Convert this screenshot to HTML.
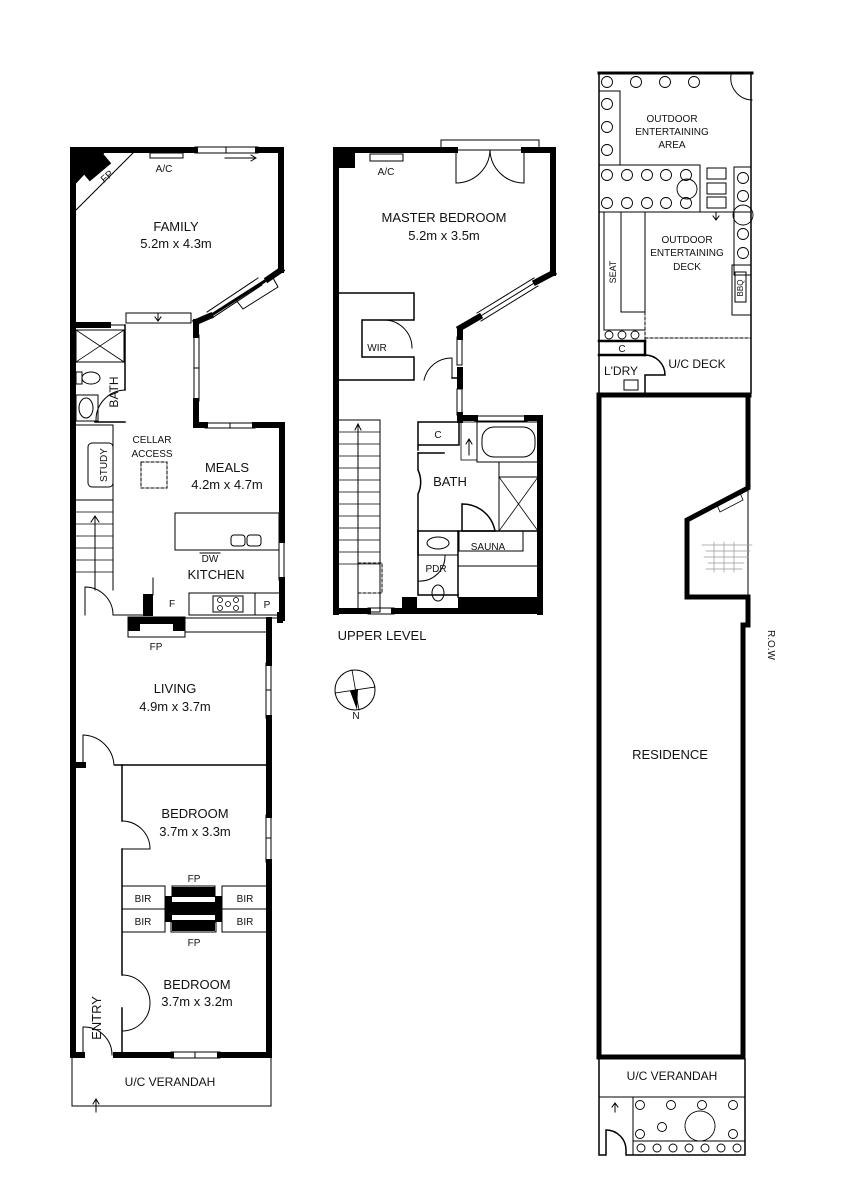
<!DOCTYPE html>
<html><head><meta charset="utf-8"><style>
html,body{margin:0;padding:0;background:#fff;}
svg{display:block;}
text{font-family:"Liberation Sans",Arial,sans-serif;fill:#111;}
</style></head><body>
<svg width="848" height="1200" viewBox="0 0 848 1200" xmlns="http://www.w3.org/2000/svg">
<g fill="none" stroke="#000" stroke-linecap="square">

<!-- ===== GROUND FLOOR ===== -->
<line x1="73" y1="150" x2="73" y2="1055" stroke-width="6"/>
<line x1="73" y1="150" x2="195" y2="150" stroke-width="6"/>
<line x1="258" y1="150" x2="281" y2="150" stroke-width="6"/>
<rect x="195" y="147" width="63" height="6" stroke-width="1"/>
<line x1="226" y1="147" x2="226" y2="153" stroke-width="1"/>
<line x1="225" y1="158" x2="255" y2="158" stroke-width="1"/>
<path d="M251 155 L256 158 L251 161" stroke-width="1"/>
<rect x="150" y="153" width="33" height="5" stroke-width="1"/>
<polygon points="70,147 110,147 70,190" fill="#000" stroke="none"/>
<line x1="75" y1="211" x2="135" y2="151" stroke-width="1"/>
<rect x="82" y="160" width="28" height="14" fill="#000" stroke="none" transform="rotate(-40 96 167)"/>
<line x1="281" y1="150" x2="281" y2="270" stroke-width="6"/>
<line x1="281" y1="270" x2="268" y2="279" stroke-width="6"/>
<line x1="210" y1="316" x2="196" y2="322" stroke-width="6"/>
<line x1="210" y1="316" x2="268" y2="279" stroke-width="3"/>
<path d="M207 312 L258 278 M212 318 L262 285" stroke-width="1"/>
<path d="M236 300 L272 276 L278 287 L243 309 Z" stroke-width="1"/>
<line x1="196" y1="322" x2="196" y2="335" stroke-width="6"/>
<rect x="194" y="335" width="5" height="66" stroke-width="1"/>
<line x1="194" y1="368" x2="199" y2="368" stroke-width="1"/>
<line x1="196" y1="401" x2="196" y2="425" stroke-width="6"/>
<line x1="196" y1="425" x2="205" y2="425" stroke-width="6"/>
<rect x="205" y="423" width="50" height="5" stroke-width="1"/>
<line x1="230" y1="423" x2="230" y2="428" stroke-width="1"/>
<line x1="255" y1="425" x2="282" y2="425" stroke-width="6"/>
<line x1="282" y1="425" x2="282" y2="540" stroke-width="6"/>
<rect x="279" y="540" width="5" height="40" stroke-width="1"/>
<line x1="282" y1="580" x2="282" y2="618" stroke-width="6"/>
<rect x="126" y="313" width="65" height="10" stroke-width="1"/>
<path d="M158 313 L158 320 M155 317 L158 321 L161 317" stroke-width="1"/>
<line x1="73" y1="325" x2="108" y2="325" stroke-width="6"/>
<line x1="108" y1="325" x2="125" y2="325" stroke-width="1"/>
<line x1="125" y1="325" x2="125" y2="390" stroke-width="1.5"/>
<rect x="76" y="330" width="48" height="32" stroke-width="1"/>
<path d="M76 330 L124 362 M124 330 L76 362" stroke-width="0.8"/>
<ellipse cx="91" cy="378" rx="9" ry="6" stroke-width="1"/>
<rect x="76" y="372" width="6" height="12" stroke-width="1"/>
<ellipse cx="86" cy="408" rx="7" ry="10" stroke-width="1"/>
<rect x="76" y="395" width="22" height="26" stroke-width="1"/>
<path d="M125 390 A30 30 0 0 0 96 420" stroke-width="1"/>
<line x1="95" y1="422" x2="125" y2="422" stroke-width="1.5"/>
<line x1="73" y1="425" x2="113" y2="425" stroke-width="1"/>
<line x1="113" y1="425" x2="113" y2="590" stroke-width="1"/>
<rect x="88" y="443" width="25" height="44" rx="4" stroke-width="1"/>
<line x1="73" y1="500" x2="113" y2="500" stroke-width="1"/>
<path d="M73 512 H113 M73 524 H113 M73 536 H113 M73 548 H113 M73 560 H113 M73 572 H113" stroke-width="0.8"/>
<path d="M95 590 V517 M91 522 L95 516 L99 522" stroke-width="1"/>
<rect x="141" y="462" width="26" height="26" stroke-width="1" stroke-dasharray="3,2"/>
<rect x="175" y="513" width="104" height="37" stroke-width="1"/>
<rect x="231" y="535" width="14" height="11" rx="3" stroke-width="1"/>
<rect x="247" y="535" width="14" height="11" rx="3" stroke-width="1"/>
<line x1="200" y1="553" x2="220" y2="553" stroke-width="1"/>
<line x1="153" y1="578" x2="153" y2="595" stroke-width="1"/>
<rect x="143" y="594" width="10" height="22" fill="#000" stroke="none"/>
<path d="M85 615 V587 A28 28 0 0 1 113 615" stroke-width="1"/>
<line x1="113" y1="615" x2="143" y2="615" stroke-width="1"/>
<rect x="189" y="593" width="66" height="22" stroke-width="1"/>
<rect x="213" y="596" width="30" height="16" stroke-width="1"/>
<circle cx="220" cy="600" r="2.5" stroke-width="0.8"/><circle cx="228" cy="604" r="2.5" stroke-width="0.8"/><circle cx="236" cy="600" r="2.5" stroke-width="0.8"/><circle cx="220" cy="608" r="2.5" stroke-width="0.8"/><circle cx="236" cy="608" r="2.5" stroke-width="0.8"/>
<rect x="255" y="593" width="26" height="22" stroke-width="1"/>
<line x1="280" y1="615" x2="280" y2="620" stroke-width="6"/>
<rect x="128" y="617" width="57" height="20" stroke-width="1"/>
<rect x="128" y="617" width="12" height="14" fill="#000" stroke="none"/>
<rect x="173" y="617" width="12" height="14" fill="#000" stroke="none"/>
<rect x="140" y="617" width="33" height="7" fill="#000" stroke="none"/>
<line x1="185" y1="632" x2="268" y2="632" stroke-width="1"/>
<line x1="153" y1="618" x2="282" y2="618" stroke-width="1"/>
<line x1="269" y1="620" x2="269" y2="663" stroke-width="6"/>
<rect x="266" y="663" width="5" height="55" stroke-width="1"/>
<line x1="266" y1="690" x2="271" y2="690" stroke-width="1"/>
<line x1="269" y1="718" x2="269" y2="815" stroke-width="6"/>
<rect x="266" y="815" width="5" height="47" stroke-width="1"/>
<line x1="266" y1="838" x2="271" y2="838" stroke-width="1"/>
<line x1="269" y1="862" x2="269" y2="1055" stroke-width="6"/>
<line x1="73" y1="765" x2="83" y2="765" stroke-width="6"/>
<line x1="115" y1="765" x2="268" y2="765" stroke-width="1.5"/>
<path d="M83 765 V735 A32 32 0 0 1 114 765" stroke-width="1"/>
<line x1="122" y1="765" x2="122" y2="821" stroke-width="1.5"/>
<path d="M122 821 A28 28 0 0 1 150 849 L122 849" stroke-width="1"/>
<line x1="122" y1="849" x2="122" y2="975" stroke-width="1.5"/>
<path d="M122 975 A28 28 0 0 1 150 1003 A28 28 0 0 1 122 1031" stroke-width="1"/>
<line x1="122" y1="1008" x2="122" y2="1055" stroke-width="1.5"/>
<rect x="122" y="886" width="43" height="23" stroke-width="1"/>
<rect x="122" y="909" width="43" height="23" stroke-width="1"/>
<rect x="222" y="886" width="46" height="23" stroke-width="1"/>
<rect x="222" y="909" width="46" height="23" stroke-width="1"/>
<rect x="165" y="896" width="57" height="26" fill="#000" stroke="none"/>
<rect x="172" y="887" width="43" height="9" fill="#000" stroke="none"/>
<rect x="172" y="922" width="43" height="9" fill="#000" stroke="none"/>
<rect x="172" y="897" width="43" height="5" fill="#fff" stroke="none"/>
<rect x="172" y="915" width="43" height="5" fill="#fff" stroke="none"/>
<rect x="172" y="886" width="43" height="10" stroke-width="1"/>
<rect x="171" y="922" width="45" height="10" stroke-width="1"/>
<line x1="73" y1="1055" x2="82" y2="1055" stroke-width="6"/>
<path d="M83 1055 V1027 A28 28 0 0 1 112 1055" stroke-width="1"/>
<line x1="116" y1="1055" x2="171" y2="1055" stroke-width="6"/>
<rect x="171" y="1052" width="49" height="6" stroke-width="1"/>
<line x1="195" y1="1052" x2="195" y2="1058" stroke-width="1"/>
<line x1="220" y1="1055" x2="269" y2="1055" stroke-width="6"/>
<polyline points="72,1058 72,1106 271,1106 271,1058" stroke-width="1"/>
<path d="M96 1112 V1100 M93 1104 L96 1099 L99 1104" stroke-width="1"/>

<!-- ===== UPPER LEVEL ===== -->
<line x1="336" y1="150" x2="336" y2="612" stroke-width="6"/>
<line x1="336" y1="150" x2="455" y2="150" stroke-width="6"/>
<line x1="524" y1="150" x2="553" y2="150" stroke-width="6"/>
<rect x="336" y="150" width="19" height="18" fill="#000" stroke="none"/>
<rect x="370" y="154" width="33" height="7" stroke-width="1"/>
<rect x="441" y="140" width="98" height="10" stroke-width="1"/>
<path d="M456 150 V183 A34 34 0 0 0 490 150 A34 34 0 0 0 524 183 V150" stroke-width="1"/>
<line x1="553" y1="150" x2="553" y2="273" stroke-width="6"/>
<line x1="553" y1="273" x2="536" y2="282" stroke-width="6"/>
<path d="M536 282 L479 317 M534 278 L477 313 M538 286 L481 321" stroke-width="1"/>
<line x1="479" y1="317" x2="460" y2="328" stroke-width="6"/>
<line x1="460" y1="330" x2="460" y2="337" stroke-width="6"/>
<rect x="457" y="337" width="5" height="28" stroke-width="1"/>
<rect x="457" y="367" width="6" height="22" fill="#000" stroke="none"/>
<rect x="457" y="389" width="5" height="26" stroke-width="1"/>
<line x1="460" y1="415" x2="460" y2="420" stroke-width="6"/>
<line x1="452" y1="378" x2="460" y2="378" stroke-width="1.5"/>
<line x1="452" y1="378" x2="452" y2="358" stroke-width="1"/>
<path d="M452 358 A28 28 0 0 0 424 380" stroke-width="1"/>
<path d="M336 293 H414 V320 H362 V357 H414 V380 H336" stroke-width="1.5"/>
<path d="M384 320 A28 28 0 0 1 412 348" stroke-width="1"/>
<rect x="337" y="420" width="43" height="192" stroke-width="1"/>
<path d="M337 432 H380 M337 444 H380 M337 456 H380 M337 468 H380 M337 480 H380 M337 492 H380 M337 504 H380 M337 516 H380 M337 528 H380 M337 540 H380 M337 552 H380 M337 564 H380" stroke-width="0.8"/>
<path d="M358 612 V424 M355 430 L358 424 L361 430" stroke-width="1"/>
<rect x="358" y="563" width="24" height="30" stroke-width="1" stroke-dasharray="3,2"/>
<line x1="336" y1="611" x2="368" y2="611" stroke-width="6"/>
<rect x="368" y="608" width="26" height="6" stroke-width="1"/>
<line x1="394" y1="611" x2="540" y2="611" stroke-width="6"/>
<rect x="402" y="597" width="15" height="14" fill="#000" stroke="none"/>
<rect x="458" y="597" width="82" height="14" fill="#000" stroke="none"/>
<line x1="460" y1="418" x2="475" y2="418" stroke-width="6"/>
<rect x="475" y="416" width="52" height="5" stroke-width="1"/>
<line x1="527" y1="418" x2="540" y2="418" stroke-width="6"/>
<line x1="540" y1="418" x2="540" y2="612" stroke-width="6"/>
<path d="M418 422 H457 M418 422 V450 M418 445 H459 V422" stroke-width="1.5"/>
<path d="M418 453 V470 A28 28 0 0 1 418 494 V595 H458" stroke-width="1.5"/>
<path d="M418 453 H444" stroke-width="1.5"/>
<rect x="461" y="422" width="16" height="38" stroke-width="0.8"/>
<path d="M469 455 V440 M466 444 L469 439 L472 444" stroke-width="1"/>
<rect x="477" y="422" width="61" height="40" stroke-width="1"/>
<rect x="482" y="427" width="53" height="30" rx="12" stroke-width="1"/>
<line x1="499" y1="462" x2="499" y2="531" stroke-width="1"/>
<rect x="499" y="477" width="39" height="54" stroke-width="1"/>
<path d="M499 477 L538 531 M538 477 L499 531" stroke-width="0.8"/>
<path d="M462 531 V504 A33 33 0 0 1 495 531 Z" stroke-width="1.5"/>
<line x1="418" y1="531" x2="538" y2="531" stroke-width="1.5"/>
<line x1="418" y1="531" x2="418" y2="555" stroke-width="1.5"/>
<rect x="459" y="531" width="64" height="20" stroke-width="1"/>
<line x1="459" y1="566" x2="538" y2="566" stroke-width="1"/>
<line x1="458" y1="531" x2="458" y2="597" stroke-width="1.5"/>
<ellipse cx="438" cy="543" rx="11" ry="6" stroke-width="1"/>
<line x1="418" y1="555" x2="458" y2="555" stroke-width="1"/>
<path d="M418 572 L418 595 M418 581 A25 25 0 0 0 445 556" stroke-width="1"/>
<ellipse cx="438" cy="593" rx="6" ry="8" stroke-width="1"/>
<circle cx="355" cy="690" r="20" stroke-width="1"/>
<path d="M352 670 L359 710 M335 693 L375 687" stroke-width="0.8"/>
<polygon points="350,691 358,689 357,710" fill="#000" stroke="none"/>

<!-- ===== RIGHT SITE ===== -->
<line x1="599" y1="73" x2="727" y2="73" stroke-width="3"/>
<line x1="727" y1="73" x2="752" y2="73" stroke-width="3"/>
<path d="M731 75 A22 22 0 0 0 752 100" stroke-width="1"/>
<line x1="599" y1="73" x2="599" y2="393" stroke-width="1.5"/>
<line x1="751" y1="73" x2="751" y2="393" stroke-width="1.5"/>
<path d="M599 91 H620 V165 M599 165 H700" stroke-width="1"/>
<rect x="599" y="165" width="101" height="47" stroke-width="1"/>
<rect x="707" y="168" width="19" height="11" stroke-width="1"/>
<rect x="707" y="183" width="19" height="11" stroke-width="1"/>
<rect x="707" y="197" width="19" height="11" stroke-width="1"/>
<line x1="599" y1="212" x2="751" y2="212" stroke-width="1"/>
<path d="M716 213 V219 M713 216 L716 220 L719 216" stroke-width="1"/>
<rect x="734" y="167" width="17" height="108" stroke-width="1"/>
<rect x="732" y="265" width="19" height="50" stroke-width="1"/>
<rect x="735" y="272" width="11" height="30" stroke-width="1"/>
<path d="M604 212 V330 H645 M621 212 V312 H645 V212" stroke-width="1"/>
<path d="M645 212 V340 M645 338 H751" stroke-width="1" stroke-dasharray="3,2"/>
<g stroke-width="0.9">
<circle cx="607" cy="82" r="5.5"/><circle cx="636" cy="82" r="5.5"/><circle cx="665" cy="82" r="5.5"/><circle cx="694" cy="82" r="5.5"/>
<circle cx="607" cy="104" r="5.5"/><circle cx="607" cy="127" r="5.5"/><circle cx="607" cy="150" r="5.5"/>
<circle cx="607" cy="175" r="5.5"/><circle cx="627" cy="175" r="5.5"/><circle cx="647" cy="175" r="5.5"/><circle cx="666" cy="175" r="5.5"/><circle cx="686" cy="175" r="5.5"/>
<circle cx="607" cy="203" r="5.5"/><circle cx="627" cy="203" r="5.5"/><circle cx="647" cy="203" r="5.5"/><circle cx="666" cy="203" r="5.5"/><circle cx="686" cy="203" r="5.5"/>
<circle cx="687" cy="189" r="10"/>
<circle cx="743" cy="178" r="5.5"/><circle cx="743" cy="196" r="5.5"/><circle cx="743" cy="234" r="5.5"/><circle cx="743" cy="253" r="5.5"/>
<circle cx="743" cy="215" r="10"/>
<circle cx="609" cy="335" r="4"/><circle cx="622" cy="335" r="4"/><circle cx="635" cy="335" r="4"/>
</g>
<line x1="599" y1="341" x2="645" y2="341" stroke-width="2.5"/>
<line x1="599" y1="355" x2="645" y2="355" stroke-width="2.5"/>
<line x1="645" y1="341" x2="645" y2="355" stroke-width="2.5"/>
<path d="M645 355 A20 20 0 0 1 665 375 H645 V393" stroke-width="1.5"/>
<rect x="624" y="380" width="14" height="10" stroke-width="1"/>
<line x1="599" y1="395" x2="749" y2="395" stroke-width="5"/>
<line x1="599" y1="395" x2="599" y2="1057" stroke-width="5"/>
<line x1="599" y1="1057" x2="743" y2="1057" stroke-width="5"/>
<path d="M748 395 V488 L687 520 V597 H748 V625 H743 V1057" stroke-width="5" stroke-linejoin="miter"/>
<line x1="748" y1="488" x2="748" y2="597" stroke-width="1"/>
<path d="M717 505 L740 493 L743 500 L720 512 Z" stroke-width="0.8"/>
<g stroke="#999" stroke-width="0.7">
<path d="M702 545 H752 M706 551 H750 M704 557 H748 M708 563 H744 M706 569 H742"/>
<path d="M714 542 V572 M724 542 V572 M734 542 V572"/>
</g>
<path d="M599 1059 V1155 H606 V1130 A20 20 0 0 1 626 1150 V1155 H745 V1059" stroke-width="1.5"/>
<line x1="599" y1="1097" x2="745" y2="1097" stroke-width="1"/>
<path d="M615 1112 V1104 M612 1107 L615 1103 L618 1107" stroke-width="1"/>
<line x1="633" y1="1097" x2="633" y2="1155" stroke-width="1"/>
<line x1="633" y1="1141" x2="745" y2="1141" stroke-width="1"/>
<g stroke-width="0.9">
<circle cx="640" cy="1105" r="4.5"/><circle cx="671" cy="1105" r="4.5"/><circle cx="702" cy="1105" r="4.5"/><circle cx="733" cy="1105" r="4.5"/>
<circle cx="662" cy="1127" r="4.5"/><circle cx="640" cy="1134" r="4.5"/><circle cx="733" cy="1134" r="4.5"/>
<circle cx="700" cy="1126" r="15" stroke-dasharray="2,1"/>
<circle cx="641" cy="1148" r="4"/><circle cx="657" cy="1148" r="4"/><circle cx="673" cy="1148" r="4"/><circle cx="689" cy="1148" r="4"/><circle cx="705" cy="1148" r="4"/><circle cx="721" cy="1148" r="4"/><circle cx="737" cy="1148" r="4"/>
</g>
</g>

<!-- ===== TEXT ===== -->
<g font-size="13" text-anchor="middle">
<text x="176" y="231">FAMILY</text>
<text x="176" y="248">5.2m x 4.3m</text>
<text x="227" y="472">MEALS</text>
<text x="227" y="489">4.2m x 4.7m</text>
<text x="216" y="579">KITCHEN</text>
<text x="175" y="693">LIVING</text>
<text x="175" y="711">4.9m x 3.7m</text>
<text x="195" y="818">BEDROOM</text>
<text x="195" y="836">3.7m x 3.3m</text>
<text x="197" y="989">BEDROOM</text>
<text x="197" y="1006">3.7m x 3.2m</text>
<text x="444" y="222">MASTER BEDROOM</text>
<text x="444" y="240">5.2m x 3.5m</text>
<text x="450" y="486">BATH</text>
<text x="670" y="759">RESIDENCE</text>
<text x="382" y="640">UPPER LEVEL</text>
</g>
<g font-size="12" text-anchor="middle">
<text x="170" y="1086">U/C VERANDAH</text>
<text x="672" y="1080">U/C VERANDAH</text>
<text x="697" y="368">U/C DECK</text>
<text x="621" y="375">L'DRY</text>
</g>
<g font-size="10" text-anchor="middle">
<text x="164" y="172">A/C</text>
<text x="386" y="175">A/C</text>
<text x="152" y="443">CELLAR</text>
<text x="152" y="457">ACCESS</text>
<text x="210" y="562">DW</text>
<text x="172" y="607">F</text>
<text x="267" y="608">P</text>
<text x="156" y="650">FP</text>
<text x="194" y="882">FP</text>
<text x="194" y="946">FP</text>
<text x="143" y="902">BIR</text>
<text x="143" y="925">BIR</text>
<text x="245" y="902">BIR</text>
<text x="245" y="925">BIR</text>
<text x="377" y="351">WIR</text>
<text x="438" y="438">C</text>
<text x="488" y="550">SAUNA</text>
<text x="436" y="572">PDR</text>
<text x="356" y="719">N</text>
<text x="622" y="352">C</text>
<text x="672" y="122">OUTDOOR</text>
<text x="672" y="135">ENTERTAINING</text>
<text x="672" y="148">AREA</text>
<text x="687" y="243">OUTDOOR</text>
<text x="687" y="256">ENTERTAINING</text>
<text x="687" y="270">DECK</text>
<text transform="translate(109,179) rotate(-40)">FP</text>
</g>
<text font-size="12" text-anchor="middle" transform="translate(118,392) rotate(-90)">BATH</text>
<text font-size="10" text-anchor="middle" transform="translate(107,465) rotate(-90)">STUDY</text>
<text font-size="13" text-anchor="middle" transform="translate(101,1018) rotate(-90)">ENTRY</text>
<text font-size="9" text-anchor="middle" transform="translate(616,272) rotate(-90)">SEAT</text>
<text font-size="8" text-anchor="middle" transform="translate(743,288) rotate(-90)">BBQ</text>
<text font-size="10" text-anchor="middle" transform="translate(768,645) rotate(90)">R.O.W</text>
</svg>
</body></html>
